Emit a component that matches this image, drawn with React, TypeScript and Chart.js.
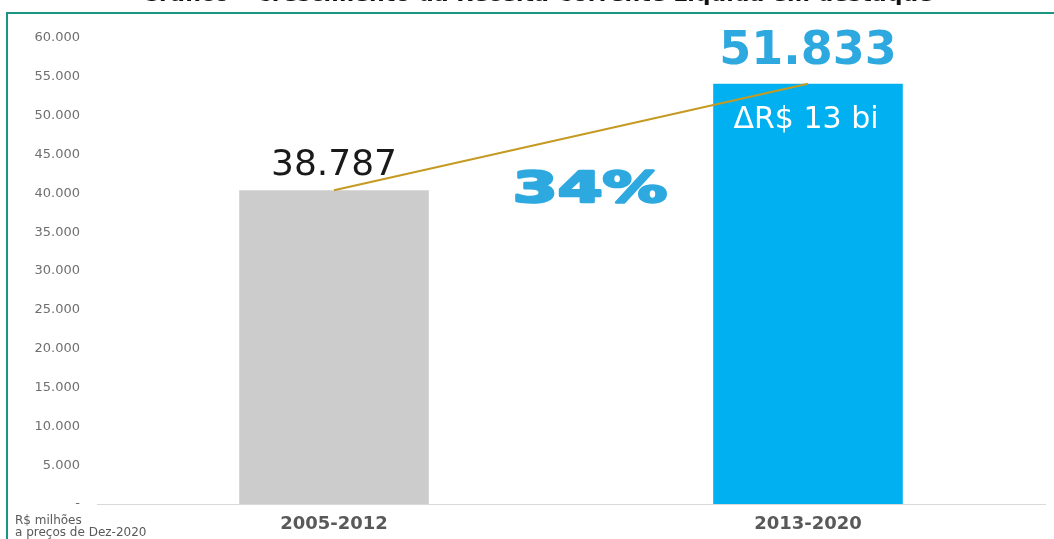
import React, { useEffect, useRef } from "react";
import { Chart, registerables } from "chart.js";

Chart.register(...registerables);

const categories = ["2005-2012", "2013-2020"];
const barValues = [40400, 54100];
const valueLabels = ["38.787", "51.833"];
const deltaLabel = "ΔR$ 13 bi";
const growthLabel = "34%";
const titleText = "Gráfico – Crescimento da Receita Corrente Líquida em destaque";
const unitLines = ["R$ milhões", "a preços de Dez-2020"];
const barColors = ["#CCCCCC", "#00B0F0"];

const fmt = (v: number) =>
  v === 0 ? "-" : v.toLocaleString("de-DE", { minimumFractionDigits: 0 });

const annotations = {
  id: "annotations",
  beforeDraw(chart: any) {
    const ctx = chart.ctx;
    ctx.save();
    ctx.fillStyle = "#ffffff";
    ctx.fillRect(0, 0, chart.width, chart.height);
    // frame
    ctx.strokeStyle = "#1B9583";
    ctx.lineWidth = 2;
    ctx.beginPath();
    ctx.moveTo(7, chart.height);
    ctx.lineTo(7, 13);
    ctx.lineTo(chart.width, 13);
    ctx.stroke();
    // title (cut off at the top)
    ctx.fillStyle = "#111111";
    ctx.font = "bold 22px 'DejaVu Sans'";
    ctx.textAlign = "center";
    ctx.textBaseline = "alphabetic";
    ctx.fillText(titleText, 537, 1);
    ctx.restore();
  },
  afterDraw(chart: any) {
    const ctx = chart.ctx;
    const bars = chart.getDatasetMeta(0).data;
    ctx.save();
    ctx.textAlign = "center";
    ctx.textBaseline = "middle";
    // first bar label
    ctx.fillStyle = "#1a1a1a";
    ctx.font = "36px 'DejaVu Sans'";
    ctx.fillText(valueLabels[0], bars[0].x, bars[0].y - 25);
    // second bar label
    ctx.fillStyle = "#2EA9E0";
    ctx.font = "bold 46px 'DejaVu Sans'";
    ctx.fillText(valueLabels[1], bars[1].x, bars[1].y - 32);
    // delta inside the bar
    ctx.fillStyle = "#ffffff";
    ctx.font = "30px 'DejaVu Sans'";
    ctx.fillText(deltaLabel, bars[1].x - 2, bars[1].y + 36);
    // growth
    const mx = (bars[0].x + bars[1].x) / 2 + 19;
    ctx.save();
    ctx.translate(mx, bars[0].y + 1);
    ctx.scale(1.5, 1);
    ctx.fillStyle = "#2EA9E0";
    ctx.strokeStyle = "#2EA9E0";
    ctx.lineWidth = 2.5;
    ctx.lineJoin = "round";
    ctx.font = "900 43px 'DejaVu Sans'";
    ctx.fillText(growthLabel, 0, 0);
    ctx.strokeText(growthLabel, 0, 0);
    ctx.restore();
    // unit note
    ctx.textAlign = "left";
    ctx.fillStyle = "#595959";
    ctx.font = "12px 'DejaVu Sans'";
    ctx.fillText(unitLines[0], 15, 521);
    ctx.fillText(unitLines[1], 15, 533);
    ctx.restore();
  },
};

export default function App() {
  const ref = useRef<HTMLCanvasElement>(null);
  useEffect(() => {
    if (!ref.current) return;
    const chart = new Chart(ref.current, {
      type: "bar",
      data: {
        labels: categories,
        datasets: [
          {
            type: "bar",
            data: barValues,
            backgroundColor: barColors,
            barPercentage: 0.4,
            categoryPercentage: 1,
            order: 2,
          },
          {
            type: "line",
            data: barValues,
            borderColor: "#C49A22",
            borderWidth: 2,
            pointRadius: 0,
            fill: false,
            order: 1,
          } as any,
        ],
      },
      options: {
        responsive: false,
        animation: false,
        layout: { padding: { top: 38, right: 9, left: 0, bottom: 0 } },
        plugins: {
          legend: { display: false },
          tooltip: { enabled: false },
          title: { display: false },
        },
        scales: {
          x: {
            grid: { display: false, drawTicks: false },
            border: { display: true, color: "#D9D9D9", width: 1 },
            ticks: {
              color: "#595959",
              font: { family: "'DejaVu Sans'", size: 18, weight: "bold" },
              padding: 10,
            },
            afterFit: (s: any) => {
              s.height = 35;
            },
          },
          y: {
            min: 0,
            max: 60000,
            grid: { display: false, drawTicks: false },
            border: { display: false },
            ticks: {
              stepSize: 5000,
              color: "#6F6F6F",
              font: { family: "'DejaVu Sans'", size: 13 },
              padding: 17,
              callback: (v: any) => fmt(Number(v)),
            },
            afterFit: (s: any) => {
              s.width = 97;
            },
          },
        },
      },
      plugins: [annotations],
    });
    return () => chart.destroy();
  }, []);
  return (
    <div style={{ position: "fixed", left: 0, top: 0, width: 1054, height: 539 }}>
      <canvas ref={ref} width={1054} height={539} />
    </div>
  );
}
